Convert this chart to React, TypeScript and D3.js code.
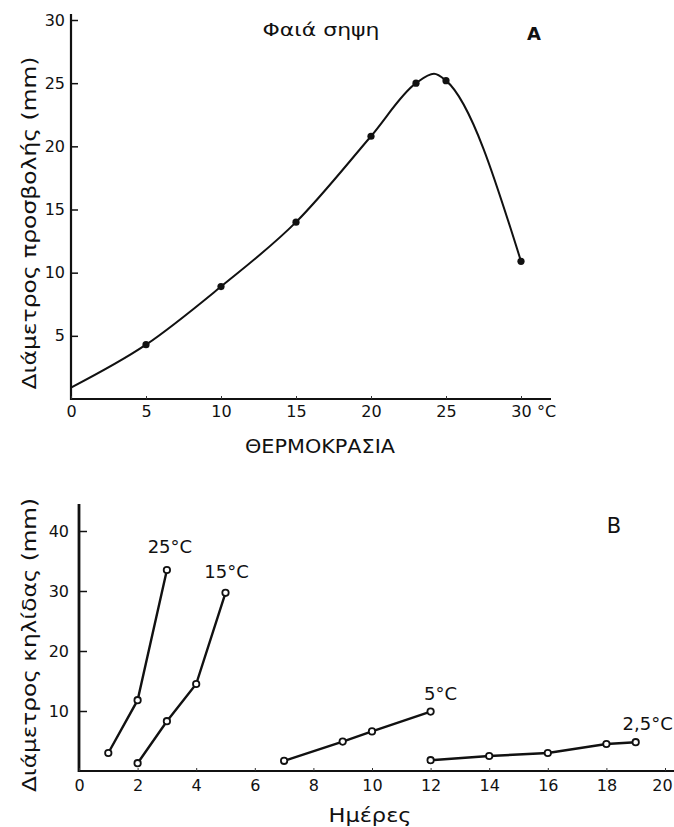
import React, { useRef, useEffect } from 'react';
import * as d3 from 'd3';

// panel A: attack diameter vs temperature (measured points)
const tempA = [5, 10, 15, 20, 23, 25, 30];
const diamA = [4.3, 8.9, 14, 20.8, 25, 25.2, 10.9];
// extra vertices of the drawn curve: start at the axis and the apex
const curveTempA = [0, 24.2];
const curveDiamA = [0.9, 25.75];
const ticksAX = [0, 5, 10, 15, 20, 25, 30];
const ticksAY = [5, 10, 15, 20, 25, 30];

// panel B: lesion diameter vs days
const seriesNames = ['25°C', '15°C', '5°C', '2,5°C'];
const days25 = [1, 2, 3];
const diam25 = [3, 11.8, 33.5];
const days15 = [2, 3, 4, 5];
const diam15 = [1.3, 8.3, 14.5, 29.7];
const days5 = [7, 9, 10, 12];
const diam5 = [1.7, 4.9, 6.6, 9.9];
const days2_5 = [12, 14, 16, 18, 19];
const diam2_5 = [1.8, 2.5, 3.0, 4.5, 4.8];
const ticksBX = [0, 2, 4, 6, 8, 10, 12, 14, 16, 18, 20];
const ticksBY = [10, 20, 30, 40];

const FONT = '"DejaVu Sans", sans-serif';

const App = () => {
    const ref = useRef<SVGSVGElement>(null);

    useEffect(() => {
        const svg = d3.select(ref.current);
        svg.selectAll('*').remove();
        svg.attr('font-family', FONT);

        // ---------- panel A ----------
        const xA = d3.scaleLinear().domain([0, 30]).range([71, 521]);
        const yA = d3.scaleLinear().domain([0, 30]).range([399, 20]);

        const gA = svg.append('g');
        gA.append('line').attr('x1', 71).attr('x2', 71).attr('y1', 14).attr('y2', 400)
            .attr('stroke', '#111').attr('stroke-width', 2.2);
        gA.append('line').attr('x1', 70).attr('x2', 551).attr('y1', 399).attr('y2', 399)
            .attr('stroke', '#111').attr('stroke-width', 2);

        const axAX = gA.append('g').attr('transform', 'translate(0,399)')
            .call(d3.axisBottom(xA).tickValues(ticksAX).tickSize(-3).tickPadding(7).tickFormat(d3.format('d')));
        axAX.select('.domain').remove();
        axAX.selectAll('text').attr('font-size', 16).attr('font-family', FONT).attr('fill', '#111');
        axAX.selectAll('line').attr('stroke', '#333');
        gA.append('text').attr('x', 537).attr('y', 417).attr('font-size', 16).attr('fill', '#111').text('°C');

        const axAY = gA.append('g').attr('transform', 'translate(71,0)')
            .call(d3.axisLeft(yA).tickValues(ticksAY).tickSize(-7).tickPadding(6));
        axAY.select('.domain').remove();
        axAY.selectAll('text').attr('font-size', 16).attr('font-family', FONT).attr('fill', '#111');
        axAY.selectAll('line').attr('stroke', '#111').attr('stroke-width', 1.5);

        const ptsA = tempA.map((t, i) => [t, diamA[i]] as [number, number]);
        const curvePts = ptsA
            .concat(curveTempA.map((t, i) => [t, curveDiamA[i]] as [number, number]))
            .sort((a, b) => a[0] - b[0]);
        const lineA = d3.line<[number, number]>()
            .x(d => xA(d[0])).y(d => yA(d[1]))
            .curve(d3.curveMonotoneX);
        gA.append('path').attr('d', lineA(curvePts)).attr('fill', 'none')
            .attr('stroke', '#111').attr('stroke-width', 2);
        gA.selectAll('circle.dot').data(ptsA).join('circle')
            .attr('class', 'dot')
            .attr('cx', d => xA(d[0])).attr('cy', d => yA(d[1])).attr('r', 3.6).attr('fill', '#111');

        gA.append('text').attr('x', 321).attr('y', 36).attr('text-anchor', 'middle')
            .attr('font-size', 18).attr('textLength', 117).attr('lengthAdjust', 'spacingAndGlyphs')
            .attr('fill', '#111').text('Φαιά σηψη');
        gA.append('text').attr('x', 534).attr('y', 40).attr('text-anchor', 'middle')
            .attr('font-size', 18).attr('font-weight', 'bold').attr('fill', '#111').text('A');
        gA.append('text').attr('x', 320).attr('y', 453).attr('text-anchor', 'middle')
            .attr('font-size', 19).attr('textLength', 150).attr('lengthAdjust', 'spacingAndGlyphs')
            .attr('fill', '#111').text('ΘΕΡΜΟΚΡΑΣΙΑ');
        gA.append('text').attr('transform', 'translate(36,223) rotate(-90)').attr('text-anchor', 'middle')
            .attr('font-size', 20).attr('textLength', 333).attr('lengthAdjust', 'spacingAndGlyphs')
            .attr('fill', '#111').text('Διάμετρος προσβολής (mm)');

        // ---------- panel B ----------
        const xB = d3.scaleLinear().domain([0, 20]).range([79, 665]);
        const yB = d3.scaleLinear().domain([0, 40]).range([771, 531]);

        const gB = svg.append('g');
        gB.append('line').attr('x1', 79).attr('x2', 79).attr('y1', 504).attr('y2', 772)
            .attr('stroke', '#111').attr('stroke-width', 2.8);
        gB.append('line').attr('x1', 78).attr('x2', 674).attr('y1', 771).attr('y2', 771)
            .attr('stroke', '#111').attr('stroke-width', 2);

        const axBX = gB.append('g').attr('transform', 'translate(0,771)')
            .call(d3.axisBottom(xB).tickValues(ticksBX).tickSize(-3).tickPadding(9).tickFormat(d3.format('d')));
        axBX.select('.domain').remove();
        axBX.selectAll('text').attr('font-size', 16).attr('font-family', FONT).attr('fill', '#111');
        axBX.selectAll('text').filter(d => d === 20).attr('dx', -3);
        axBX.selectAll('line').attr('stroke', '#333');

        const axBY = gB.append('g').attr('transform', 'translate(79,0)')
            .call(d3.axisLeft(yB).tickValues(ticksBY).tickSize(-8).tickPadding(10));
        axBY.select('.domain').remove();
        axBY.selectAll('text').attr('font-size', 16).attr('font-family', FONT).attr('fill', '#111');
        axBY.selectAll('line').attr('stroke', '#111').attr('stroke-width', 1.5);

        const seriesB = [
            [days25, diam25],
            [days15, diam15],
            [days5, diam5],
            [days2_5, diam2_5],
        ].map(([ds, vs]) => ds.map((d, i) => [d, vs[i]] as [number, number]));
        const labelOffset = [[3, -17], [1, -15], [10, -12], [12, -12]];

        const lineB = d3.line<[number, number]>().x(d => xB(d[0])).y(d => yB(d[1]));
        seriesB.forEach((pts, si) => {
            const g = gB.append('g');
            g.append('path').attr('d', lineB(pts)).attr('fill', 'none')
                .attr('stroke', '#111').attr('stroke-width', 2.4);
            g.selectAll('circle').data(pts).join('circle')
                .attr('cx', d => xB(d[0])).attr('cy', d => yB(d[1])).attr('r', 3.2)
                .attr('fill', '#fff').attr('stroke', '#111').attr('stroke-width', 1.8);
            const last = pts[pts.length - 1];
            g.append('text')
                .attr('x', xB(last[0]) + labelOffset[si][0])
                .attr('y', yB(last[1]) + labelOffset[si][1])
                .attr('text-anchor', 'middle').attr('font-size', 18).attr('fill', '#111')
                .text(seriesNames[si]);
        });

        gB.append('text').attr('x', 614).attr('y', 533).attr('text-anchor', 'middle')
            .attr('font-size', 21).attr('fill', '#111').text('B');
        gB.append('text').attr('x', 370).attr('y', 822).attr('text-anchor', 'middle')
            .attr('font-size', 19).attr('textLength', 83).attr('lengthAdjust', 'spacingAndGlyphs')
            .attr('fill', '#111').text('Ημέρες');
        gB.append('text').attr('transform', 'translate(36,645) rotate(-90)').attr('text-anchor', 'middle')
            .attr('font-size', 20).attr('textLength', 294).attr('lengthAdjust', 'spacingAndGlyphs')
            .attr('fill', '#111').text('Διάμετρος κηλίδας (mm)');
    }, []);

    return (
        <div style={{ position: 'absolute', left: 0, top: 0, width: 674, height: 827, background: '#fff' }}>
            <svg ref={ref} width={674} height={827}></svg>
        </div>
    );
};

export default App;
